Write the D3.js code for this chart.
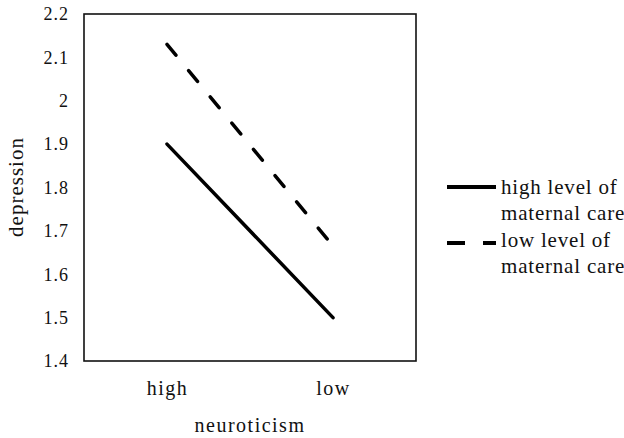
<!DOCTYPE html>
<html>
<head>
<meta charset="utf-8">
<script src="https://cdn.jsdelivr.net/npm/d3@7"></script>
<style>
  body { margin: 0; background: #fff; }
  text { font-family: "Liberation Serif", "DejaVu Serif", serif; fill: #111; }
</style>
</head>
<body>
<svg></svg>
<script>
var width = 624, height = 438;

// data
var categories = ['high', 'low'];
var seriesNames = ['high level of maternal care', 'low level of maternal care'];
var highCare = [1.9, 1.5];
var lowCare = [2.13, 1.665];
var yTicks = [1.4, 1.5, 1.6, 1.7, 1.8, 1.9, 2, 2.1, 2.2];

var margin = {left: 84, top: 14, right: 208, bottom: 77};
var serif = '"Liberation Serif", "DejaVu Serif", serif';

var svg = d3.select('svg')
    .attr('width', width)
    .attr('height', height);

var x = d3.scalePoint()
    .domain(categories)
    .range([margin.left, width - margin.right])
    .padding(0.5);

var y = d3.scaleLinear()
    .domain([1.4, 2.2])
    .range([height - margin.bottom, margin.top]);

// frame
svg.append('rect')
    .attr('x', margin.left)
    .attr('y', margin.top)
    .attr('width', width - margin.right - margin.left)
    .attr('height', height - margin.bottom - margin.top)
    .attr('fill', 'none')
    .attr('stroke', '#111')
    .attr('stroke-width', 1.6);

// y axis labels
var yAxis = d3.axisLeft(y)
    .tickValues(yTicks)
    .tickFormat(d => d3.format('~g')(d))
    .tickSize(0)
    .tickPadding(15);

svg.append('g')
    .attr('transform', `translate(${margin.left},0)`)
    .attr('font-family', serif)
    .call(yAxis)
    .call(g => g.select('.domain').remove())
    .selectAll('text')
        .style('font-size', '18px')
        .style('letter-spacing', '1px')
        .attr('fill', '#222');

// x axis labels
var xAxis = d3.axisBottom(x).tickSize(0).tickPadding(0);

svg.append('g')
    .attr('transform', `translate(0,${height - margin.bottom})`)
    .attr('font-family', serif)
    .call(xAxis)
    .call(g => g.select('.domain').remove())
    .selectAll('text')
        .attr('dy', null)
        .attr('y', 395 - (height - margin.bottom))
        .style('font-size', '20px')
        .style('letter-spacing', '1.5px')
        .attr('fill', '#111');

// axis titles
svg.append('text')
    .attr('x', 250)
    .attr('y', 432)
    .attr('text-anchor', 'middle')
    .style('font-size', '20px')
    .style('letter-spacing', '1.5px')
    .text('neuroticism');

svg.append('text')
    .attr('transform', 'translate(23,187) rotate(-90)')
    .attr('text-anchor', 'middle')
    .style('font-size', '21px')
    .style('letter-spacing', '1px')
    .text('depression');

// lines
var line = d3.line()
    .x((d, i) => x(categories[i]))
    .y(d => y(d));

svg.append('path')
    .datum(highCare)
    .attr('d', line)
    .attr('fill', 'none')
    .attr('stroke', '#000')
    .attr('stroke-width', 3.5)
    .attr('stroke-linecap', 'round');

svg.append('path')
    .datum(lowCare)
    .attr('d', line)
    .attr('fill', 'none')
    .attr('stroke', '#000')
    .attr('stroke-width', 3.5)
    .attr('stroke-dasharray', '14,20')
    .attr('stroke-linecap', 'round');

// legend
var legend = svg.append('g').attr('transform', 'translate(447,0)');
var legendY = [187, 243];
var textY = [194, 247];
var legendLines = [['high level of', 'maternal care'], ['low level of', 'maternal care']];

seriesNames.forEach(function(name, i){
    legend.append('line')
        .attr('x1', 0).attr('x2', 49)
        .attr('y1', legendY[i]).attr('y2', legendY[i])
        .attr('stroke', '#000')
        .attr('stroke-width', 4)
        .attr('stroke-dasharray', i === 1 ? '18,18' : null);

    var t = legend.append('text')
        .attr('x', 54)
        .attr('y', textY[i])
        .style('font-size', '21px')
        .style('letter-spacing', '0.8px');
    legendLines[i].forEach(function(s, j){
        t.append('tspan')
            .attr('x', 54)
            .attr('dy', j === 0 ? 0 : 26)
            .text(s);
    });
});
</script>
</body>
</html>
